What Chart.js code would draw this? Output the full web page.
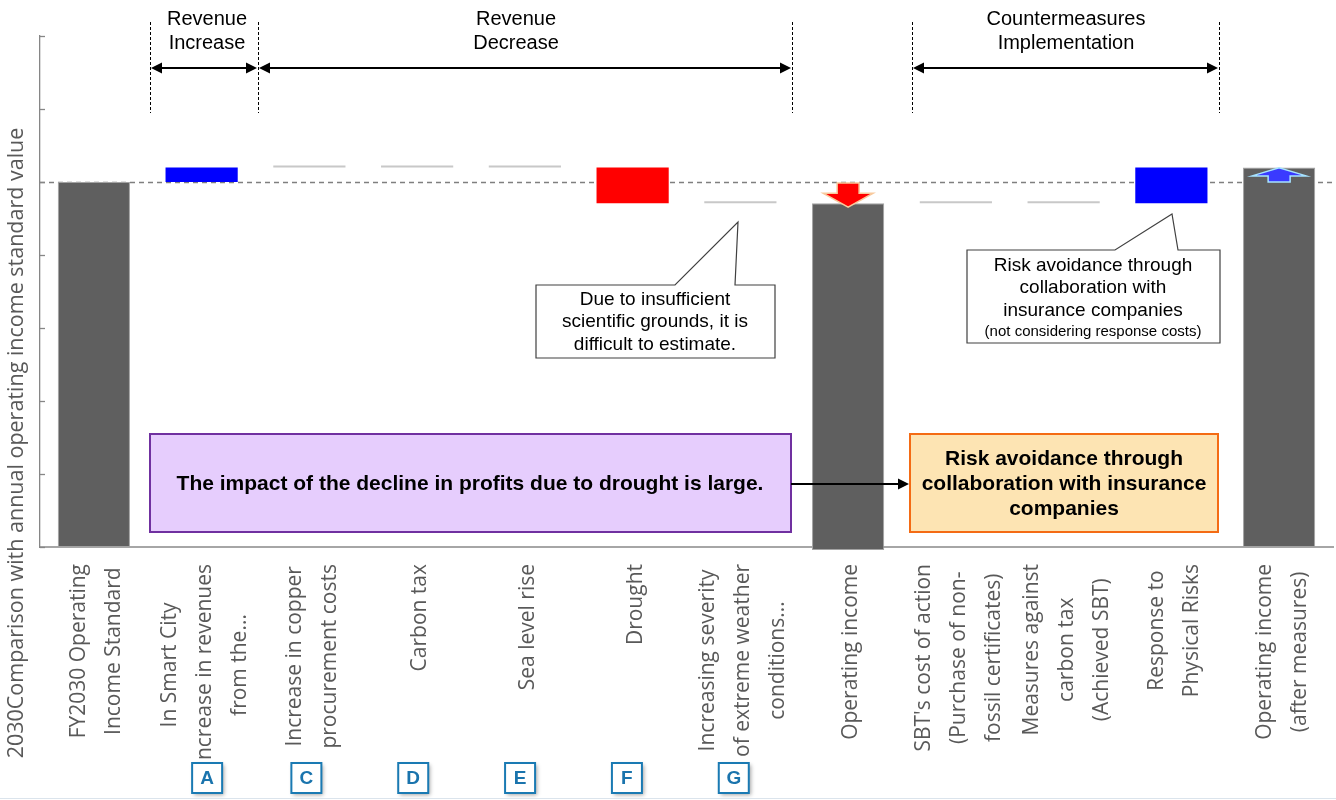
<!DOCTYPE html>
<html>
<head>
<meta charset="utf-8">
<script src="https://cdn.jsdelivr.net/npm/chart.js@4.4.0/dist/chart.umd.min.js"></script>
<style>
html,body{margin:0;padding:0;background:#ffffff;}
#wrap{width:1336px;height:800px;position:relative;}
</style>
</head>
<body>
<div id="wrap"><canvas id="c"></canvas></div>
<script>
// ---------- data ----------
const categoryLines = [
  ["FY2030 Operating", "Income Standard"],
  ["In Smart City", "Increase in revenues", "from the..."],
  ["Increase in copper", "procurement costs"],
  ["Carbon tax"],
  ["Sea level rise"],
  ["Drought"],
  ["Increasing severity", "of extreme weather", "conditions..."],
  ["Operating income"],
  ["SBT's cost of action", "(Purchase of non-", "fossil certificates)"],
  ["Measures against", "carbon tax", "(Achieved SBT)"],
  ["Response to", "Physical Risks"],
  ["Operating income", "(after measures)"]
];
const barLow  = [0,   5.0, 5.2, 5.2, 5.2, 4.71, 4.71, -0.04, 4.71, 4.71, 4.71, 0];
const barHigh = [5.0, 5.2, 5.2, 5.2, 5.2, 5.2,  4.71, 4.71,  4.71, 4.71, 5.2,  5.2];
const barColors = ['#5f5f5f','#0000ff','#c8c8c8','#c8c8c8','#c8c8c8','#ff0000',
                   '#c8c8c8','#5f5f5f','#c8c8c8','#c8c8c8','#0000ff','#5f5f5f'];
const baselineValue = 5.0;
const yMin = 0, yMax = 7, yStep = 1;
const letterTags = ['', 'A', 'C', 'D', 'E', 'F', 'G', '', '', '', '', ''];
const yTitle = '2030Comparison with annual operating income standard value';
const groupTitles = [['Revenue','Increase'], ['Revenue','Decrease'], ['Countermeasures','Implementation']];
const callout1 = ['Due to insufficient', 'scientific grounds, it is', 'difficult to estimate.'];
const callout2 = ['Risk avoidance through', 'collaboration with', 'insurance companies'];
const callout2Note = '(not considering response costs)';
const purpleText = 'The impact of the decline in profits due to drought is large.';
const orangeText = ['Risk avoidance through', 'collaboration with insurance', 'companies'];

const categories = categoryLines.map(l => l.join(' '));
const barData = barLow.map((lo, i) => [lo, barHigh[i]]);

// ---------- drawing helpers ----------
const SANS = '"Liberation Sans", Arial, sans-serif';
const LABEL = '"Open Sans", "Noto Sans", sans-serif';

function arrowHead(ctx, x, y, dir) { // dir: -1 left, 1 right
  ctx.beginPath();
  ctx.moveTo(x, y);
  ctx.lineTo(x - dir * 11, y - 5.5);
  ctx.lineTo(x - dir * 11, y + 5.5);
  ctx.closePath();
  ctx.fill();
}
function doubleArrow(ctx, x1, x2, y) {
  ctx.save();
  ctx.strokeStyle = '#000'; ctx.fillStyle = '#000'; ctx.lineWidth = 2;
  ctx.beginPath(); ctx.moveTo(x1 + 8, y); ctx.lineTo(x2 - 8, y); ctx.stroke();
  arrowHead(ctx, x1 + 1, y, -1);
  arrowHead(ctx, x2 - 1, y, 1);
  ctx.restore();
}
function vDashed(ctx, x, y1, y2) {
  ctx.save();
  ctx.strokeStyle = '#000'; ctx.lineWidth = 1; ctx.setLineDash([3, 2]);
  ctx.beginPath(); ctx.moveTo(x + 0.5, y1); ctx.lineTo(x + 0.5, y2); ctx.stroke();
  ctx.restore();
}
function textLines(ctx, lines, cx, ys, font, color) {
  ctx.save();
  ctx.font = font; ctx.fillStyle = color || '#000';
  ctx.textAlign = 'center'; ctx.textBaseline = 'middle';
  lines.forEach((t, i) => ctx.fillText(t, cx, ys[i]));
  ctx.restore();
}
function callout(ctx, bx1, by1, bx2, by2, p1, tip, p2) {
  ctx.save();
  ctx.fillStyle = '#fff'; ctx.strokeStyle = '#404040'; ctx.lineWidth = 1.2;
  ctx.beginPath();
  ctx.moveTo(bx1, by1);
  ctx.lineTo(p1, by1);
  ctx.lineTo(tip[0], tip[1]);
  ctx.lineTo(p2, by1);
  ctx.lineTo(bx2, by1);
  ctx.lineTo(bx2, by2);
  ctx.lineTo(bx1, by2);
  ctx.closePath();
  ctx.fill(); ctx.stroke();
  ctx.restore();
}

const annotations = {
  id: 'annotations',
  beforeDatasetsDraw(chart) {
    const ctx = chart.ctx, ys = chart.scales.y, ca = chart.chartArea;
    // baseline dashed line
    ctx.save();
    ctx.strokeStyle = '#7f7f7f'; ctx.lineWidth = 1.3; ctx.setLineDash([5, 4]);
    const yb = Math.round(ys.getPixelForValue(baselineValue)) + 0.5;
    ctx.beginPath(); ctx.moveTo(ca.left, yb); ctx.lineTo(1336, yb); ctx.stroke();
    ctx.restore();
    // inward y tick marks
    ctx.save();
    ctx.strokeStyle = '#868686'; ctx.lineWidth = 1.3;
    ys.ticks.forEach(t => {
      const y = Math.round(ys.getPixelForValue(t.value)) + 0.5;
      ctx.beginPath(); ctx.moveTo(ca.left, y); ctx.lineTo(ca.left + 5, y); ctx.stroke();
    });
    ctx.restore();
  },
  afterDatasetsDraw(chart) {
    const ctx = chart.ctx, xs = chart.scales.x, ys = chart.scales.y;
    // red down arrow on operating income
    {
      const cx = xs.getPixelForValue(7);
      const yTop = ys.getPixelForValue(baselineValue) + 1;
      const yTip = ys.getPixelForValue(barHigh[7]) + 4;
      const yHead = yTip - 14;
      ctx.save();
      ctx.fillStyle = '#ff0000'; ctx.strokeStyle = '#f8c99c'; ctx.lineWidth = 1.5;
      ctx.beginPath();
      ctx.moveTo(cx - 11, yTop); ctx.lineTo(cx + 11, yTop); ctx.lineTo(cx + 11, yHead);
      ctx.lineTo(cx + 25, yHead); ctx.lineTo(cx, yTip); ctx.lineTo(cx - 25, yHead);
      ctx.lineTo(cx - 11, yHead); ctx.closePath();
      ctx.fill(); ctx.stroke();
      ctx.restore();
    }
    // blue up arrow on final operating income
    {
      const cx = xs.getPixelForValue(11);
      const yBot = ys.getPixelForValue(baselineValue);
      const yTip = ys.getPixelForValue(barHigh[11]) + 0.5;
      const yHead = yTip + 8;
      ctx.save();
      ctx.fillStyle = '#3a3aff'; ctx.strokeStyle = '#a6e3ff'; ctx.lineWidth = 1.5;
      ctx.beginPath();
      ctx.moveTo(cx - 11, yBot); ctx.lineTo(cx + 11, yBot); ctx.lineTo(cx + 11, yHead);
      ctx.lineTo(cx + 27, yHead); ctx.lineTo(cx, yTip); ctx.lineTo(cx - 27, yHead);
      ctx.lineTo(cx - 11, yHead); ctx.closePath();
      ctx.fill(); ctx.stroke();
      ctx.restore();
    }
    // group dividers, arrows and titles
    [150, 258, 792, 912, 1219].forEach(x => vDashed(ctx, x, 22, 113));
    doubleArrow(ctx, 150, 258, 68);
    doubleArrow(ctx, 258, 792, 68);
    doubleArrow(ctx, 912, 1219, 68);
    const hf = '20px ' + SANS;
    textLines(ctx, groupTitles[0], 207, [19, 43], hf);
    textLines(ctx, groupTitles[1], 516, [19, 43], hf);
    textLines(ctx, groupTitles[2], 1066, [19, 43], hf);

    // callouts
    callout(ctx, 536, 285, 775, 358, 675, [738, 222], 735);
    textLines(ctx, callout1, 655, [300, 322, 345], '19px ' + SANS);
    callout(ctx, 967, 250, 1220, 343, 1115, [1172, 214], 1178);
    textLines(ctx, callout2, 1093, [266, 288, 311], '19px ' + SANS);
    textLines(ctx, [callout2Note], 1093, [332], '15px ' + SANS);

    // purple and orange boxes
    ctx.save();
    ctx.fillStyle = '#e6cdfd'; ctx.strokeStyle = '#7030a0'; ctx.lineWidth = 2;
    ctx.fillRect(150, 434, 641, 98); ctx.strokeRect(150, 434, 641, 98);
    ctx.fillStyle = '#fde4b3'; ctx.strokeStyle = '#f46b14';
    ctx.fillRect(910, 434, 308, 98); ctx.strokeRect(910, 434, 308, 98);
    ctx.restore();
    textLines(ctx, [purpleText], 470, [484], 'bold 21px ' + SANS);
    textLines(ctx, orangeText, 1064, [459, 484, 509], 'bold 21px ' + SANS);
    // connecting arrow
    ctx.save();
    ctx.strokeStyle = '#000'; ctx.fillStyle = '#000'; ctx.lineWidth = 2;
    ctx.beginPath(); ctx.moveTo(791, 484); ctx.lineTo(900, 484); ctx.stroke();
    arrowHead(ctx, 909, 484, 1);
    ctx.restore();
  },
  afterDraw(chart) {
    const ctx = chart.ctx, xs = chart.scales.x, ca = chart.chartArea;
    // category labels (rotated, lines centered within block)
    ctx.save();
    ctx.font = '21px ' + LABEL;
    ctx.fillStyle = '#595959';
    ctx.textAlign = 'center'; ctx.textBaseline = 'middle';
    categoryLines.forEach((lines, i) => {
      const cx = xs.getPixelForValue(i) + 3;
      const maxW = Math.max(...lines.map(t => ctx.measureText(t).width));
      const cy = ca.bottom + 17 + maxW / 2;
      const n = lines.length;
      lines.forEach((t, k) => {
        const x = cx + (k - (n - 1) / 2) * 35;
        ctx.save(); ctx.translate(x, cy); ctx.rotate(-Math.PI / 2);
        ctx.fillText(t, 0, 0); ctx.restore();
      });
    });
    // y title
    ctx.save(); ctx.translate(17, 443); ctx.rotate(-Math.PI / 2);
    ctx.font = '21.5px ' + LABEL;
    ctx.fillText(yTitle, 0, 0);
    ctx.restore();
    ctx.restore();

    // letter tags
    letterTags.forEach((t, i) => {
      if (!t) return;
      const cx = i === 1 ? xs.getPixelForValue(i) + 5.5 : xs.getPixelForValue(i) - 3 - 0.9 * (i - 2);
      const cy = 778;
      ctx.save();
      ctx.shadowColor = 'rgba(0,0,0,0.35)'; ctx.shadowBlur = 4;
      ctx.shadowOffsetX = 2; ctx.shadowOffsetY = 2;
      ctx.fillStyle = '#fff';
      ctx.fillRect(cx - 15, cy - 15, 30, 30);
      ctx.restore();
      ctx.save();
      ctx.strokeStyle = '#1a7ab3'; ctx.lineWidth = 2;
      ctx.strokeRect(cx - 15, cy - 15, 30, 30);
      ctx.font = 'bold 19px ' + SANS; ctx.fillStyle = '#1a74ad';
      ctx.textAlign = 'center'; ctx.textBaseline = 'middle';
      ctx.fillText(t, cx, cy + 1);
      ctx.restore();
    });
    // faint bottom border
    ctx.save();
    ctx.strokeStyle = '#dbe4ec'; ctx.lineWidth = 1;
    ctx.beginPath(); ctx.moveTo(0, 798.5); ctx.lineTo(1336, 798.5); ctx.stroke();
    ctx.restore();
  }
};

new Chart(document.getElementById('c'), {
  type: 'bar',
  data: {
    labels: categories,
    datasets: [{
      data: barData,
      backgroundColor: barColors,
      borderColor: barColors.map(c => c === '#5f5f5f' ? '#a3a3a3' : c),
      borderWidth: barColors.map(c => c === '#5f5f5f' ? 1 : 0),
      borderSkipped: false,
      barPercentage: 0.67,
      categoryPercentage: 1,
      minBarLength: 2,
      clip: false
    }]
  },
  options: {
    responsive: true,
    maintainAspectRatio: false,
    animation: false,
    layout: { padding: { left: 40, right: 3, top: 36, bottom: 253 } },
    plugins: { legend: { display: false }, tooltip: { enabled: false }, title: { display: false } },
    scales: {
      x: {
        ticks: { display: false },
        grid: { display: false, drawTicks: false },
        border: { display: true, color: '#a6a6a6', width: 2 },
        afterFit(s) { s.height = 0; }
      },
      y: {
        min: yMin, max: yMax,
        ticks: { display: false, stepSize: yStep },
        grid: { display: false, drawTicks: false },
        border: { display: true, color: '#868686', width: 1.3 },
        afterFit(s) { s.width = 0; }
      }
    }
  },
  plugins: [annotations]
});
</script>
</body>
</html>
